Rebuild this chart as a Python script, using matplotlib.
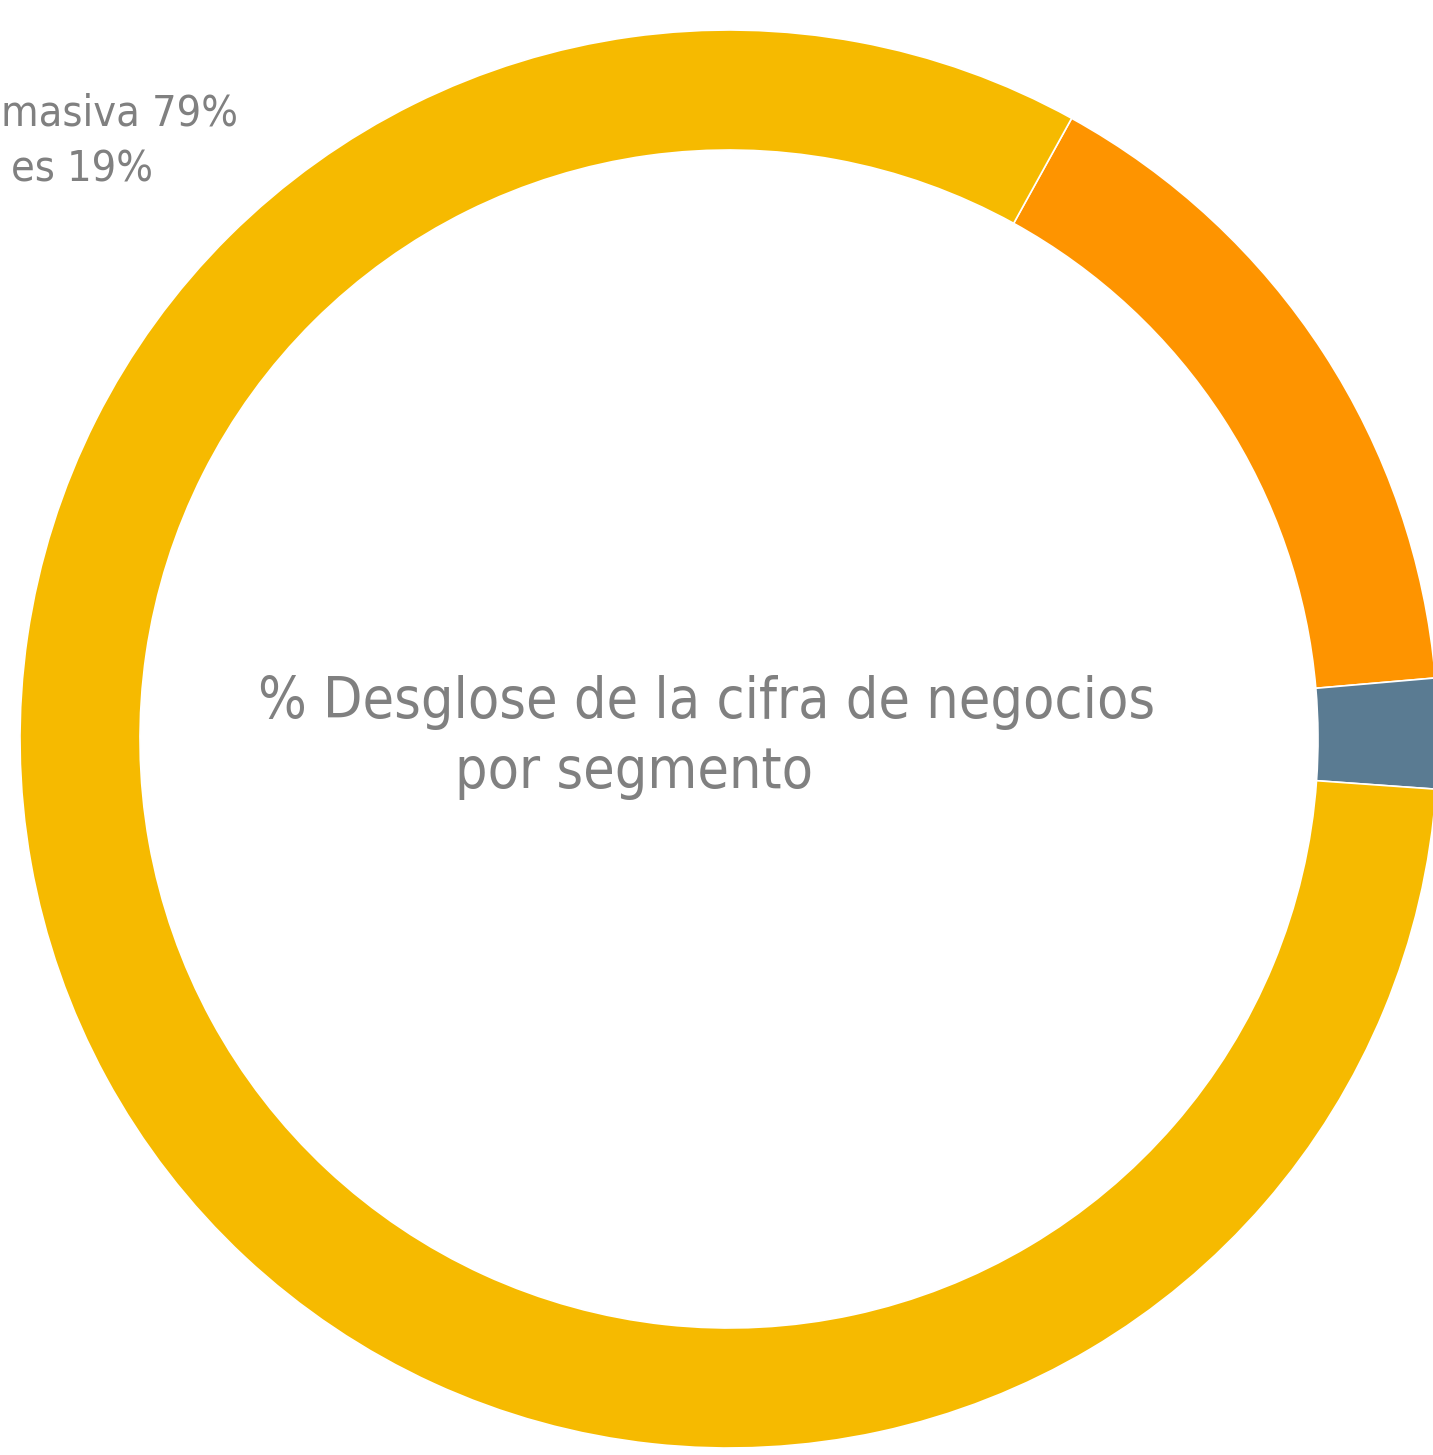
import matplotlib.pyplot as plt

# segment shares as drawn (clockwise from the top-right boundary)
segments = ['Grandes clientes', 'Otros', 'Distribución masiva']
shares = [15.6, 2.5, 81.9]
colors = ['#FE9400', '#5A7B92', '#F6BA00']
legend_lines = ['masiva 79%', 'es 19%']
title = '% Desglose de la cifra de negocios'
title2 = 'por segmento'

plt.rcParams['font.family'] = ['DejaVu Sans']

W, H = 1433, 1455
fig = plt.figure(figsize=(W / 100, H / 100), dpi=100)
ax = fig.add_axes([0, 0, 1, 1])

cx, cy = 729, H - 739
r_out, r_in = 709, 589
ax.pie(shares, colors=colors, startangle=61.1, counterclock=False,
       center=(cx, cy), radius=r_out,
       wedgeprops=dict(width=r_out - r_in, edgecolor='white', linewidth=1.2))
ax.set_xlim(0, W)
ax.set_ylim(0, H)
ax.axis('off')

grey = '#808080'
ax.text(238, H - 126, legend_lines[0], ha='right', va='baseline',
        fontsize=31, color=grey, fontstretch='condensed')
ax.text(153, H - 181, legend_lines[1], ha='right', va='baseline',
        fontsize=31, color=grey, fontstretch='condensed')

ax.text(258, H - 718, title, ha='left', va='baseline', fontsize=41,
        color=grey, fontstretch='condensed')
ax.text(455, H - 788, title2, ha='left', va='baseline', fontsize=41,
        color=grey, fontstretch='condensed')

fig.savefig('out.png', dpi=100)
